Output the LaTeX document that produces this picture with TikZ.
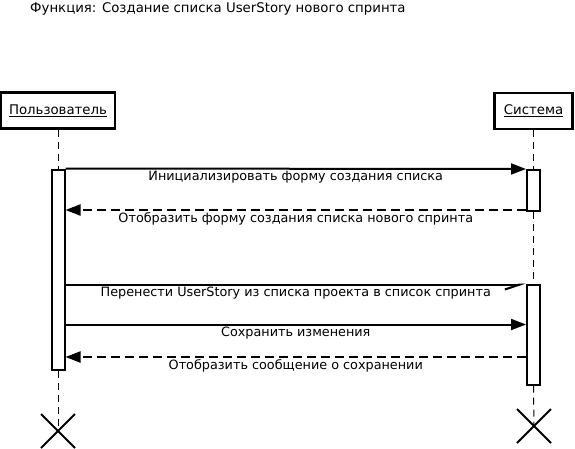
\documentclass[tikz,border=0pt]{standalone}
\usepackage{fontspec}
\setmainfont{DejaVu Sans}
\usetikzlibrary{arrows.meta,shapes.misc,positioning}

\begin{document}
\begin{tikzpicture}[x=1pt,y=-1pt,font=\fontsize{13.3}{15}\selectfont]

        % Setup the styles for the diagram
        \tikzset{actor/.style={draw,
                               line width=2.2pt,
                               minimum height=36pt,
                               inner xsep=8pt},
                 activation/.style={draw,
                                    fill=white,
                                    line width=2pt,
                                    minimum width=13pt,
                                    inner sep=0pt},
                 lifeline/.style={line width=1pt,
                                  dash pattern=on 7pt off 5pt},
                 kill/.style={cross out,
                              draw,
                              line width=2pt,
                              minimum size=32pt,
                              inner sep=0pt},
                 call/.style={line width=2pt,
                              -{Triangle[length=15pt,width=11pt]}},
                 answer/.style={call,
                                dash pattern=on 9pt off 5pt},
                 label/.style={below,
                               inner sep=0pt,
                               yshift=-1.5pt,
                               font=\fontsize{12.8}{14}\selectfont}}

        \useasboundingbox (0,0) rectangle (575,448);

        % Title
        \node[anchor=west, inner sep=0pt] at (30,8.5) (title) {Функция: Создание списка UserStory нового спринта};

        % Draw the participants
        \node[actor, minimum width=113pt] at (58,110.5) (user) {\underline{Пользователь}};
        \node[actor, minimum width=78pt] at (533.5,111) (sys) {\underline{Система}};

        % Draw the activations
        \node[activation, minimum height=200pt] at (58,269.5) (ua) {};
        \node[activation, minimum height=41pt] at (533.5,190.5) (sa1) {};
        \node[activation, minimum height=100pt] at (533.5,334.5) (sa2) {};

        % Draw the ends
        \node[kill] at (58,431) (uend) {};
        \node[kill] at (534,426) (send) {};

        % Lifelines
        \draw[lifeline] (user.south) -- (ua.north);
        \draw[lifeline] (ua.south) -- (uend.center);
        \draw[lifeline] (sys.south) -- (sa1.north);
        \draw[lifeline] (sa1.south) -- (sa2.north);
        \draw[lifeline] (sa2.south) -- (send.center);

        % Connect the activations with messages
        \coordinate (m2) at (58,210);
        \coordinate (m3) at (58,284.5);
        \coordinate (m4) at (58,324.5);
        \coordinate (m5) at (58,357);
        \draw[call] (ua.north east) -- node[label] {Инициализировать форму создания списка} (sa1.north west);
        \draw[answer] (m2 -| sa1.west) -- node[label] {Отобразить форму создания списка нового спринта} (m2 -| ua.east);
        \draw[line width=2pt, -{Straight Barb[right,length=15pt,width=10pt]}]
            (m3 -| ua.east) -- node[label] {Перенести UserStory из списка проекта в список спринта} (m3 -| sa2.west);
        \draw[call] (m4 -| ua.east) -- node[label] {Сохранить изменения} (m4 -| sa2.west);
        \draw[answer] (m5 -| sa2.west) -- node[label] {Отобразить сообщение о сохранении} (m5 -| ua.east);
\end{tikzpicture}
\end{document}
